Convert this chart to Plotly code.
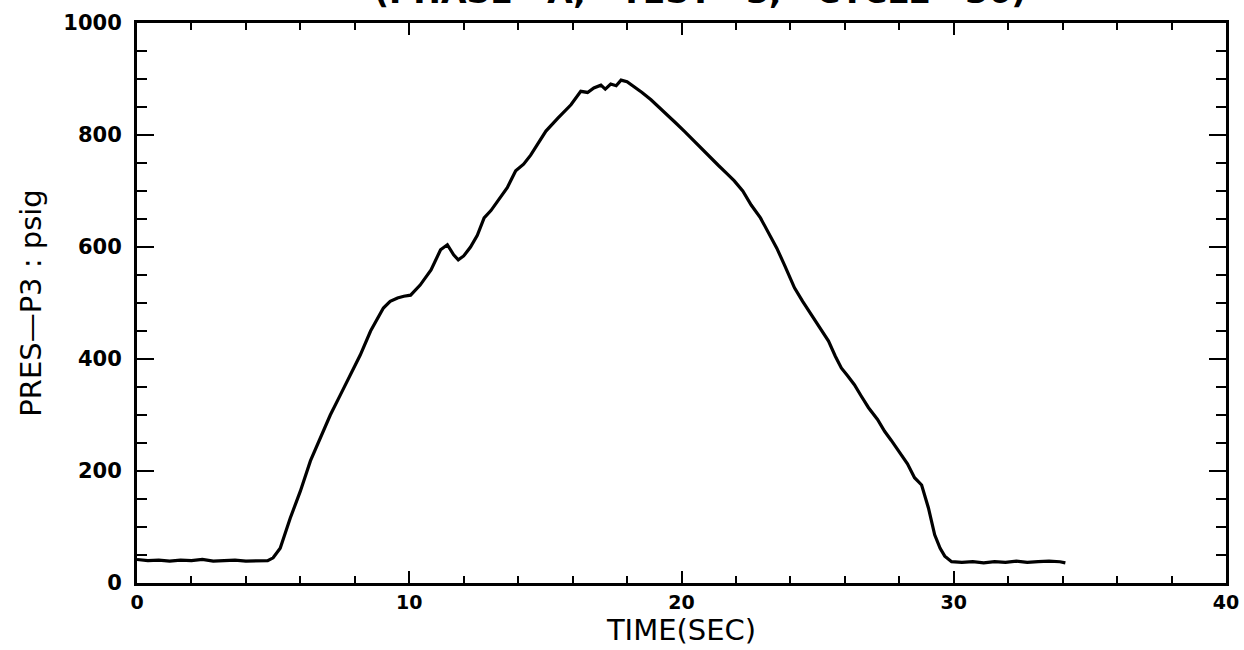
import plotly.graph_objects as go

# ---- data ----
time_sec = [0, 0.4, 0.8, 1.2, 1.6, 2.0, 2.4, 2.8, 3.2, 3.6, 4.0, 4.4, 4.8, 5.0,
            5.26, 5.63, 6.0, 6.37, 6.74, 7.1, 7.47, 7.84, 8.2, 8.58, 9.05, 9.3,
            9.57, 9.8, 10.05, 10.4, 10.8, 11.15, 11.4, 11.63, 11.8, 12.0, 12.25,
            12.5, 12.75, 13.0, 13.25, 13.6, 13.91, 14.2, 14.46, 14.75, 15.02,
            15.46, 15.94, 16.3, 16.55, 16.78, 17.04, 17.2, 17.4, 17.6, 17.78,
            18.0, 18.25, 18.55, 18.88, 19.2, 19.5, 19.8, 20.1, 20.4, 20.72,
            21.05, 21.35, 21.65, 21.94, 22.25, 22.56, 22.9, 23.18, 23.5, 23.78,
            24.15, 24.45, 24.77, 25.1, 25.4, 25.65, 25.87, 26.1, 26.35, 26.6,
            26.87, 27.2, 27.46, 27.7, 27.97, 28.3, 28.56, 28.82, 29.07, 29.3,
            29.5, 29.67, 29.92, 30.3, 30.7, 31.1, 31.5, 31.9, 32.3, 32.7, 33.1,
            33.5, 33.9, 34.1]
pres_psig = [42, 40, 41, 39, 41, 40, 42, 39, 40, 41, 39, 40, 40, 45,
             62, 116, 164, 218, 259, 300, 336, 371, 407, 450, 491, 503,
             509, 512, 514, 532, 559, 595, 604, 586, 577, 584, 600,
             621, 652, 665, 682, 706, 736, 748, 764, 787, 807,
             830, 854, 878, 876, 884, 889, 882, 891, 888, 898,
             895, 887, 876, 863, 849, 834, 821, 807, 792, 777,
             760, 746, 732, 718, 700, 675, 652, 628, 598, 568,
             527, 503, 479, 452, 432, 405, 384, 370, 354, 334,
             313, 292, 271, 255, 236, 213, 188, 175, 134, 86,
             62, 48, 38, 37, 38, 36, 38, 37, 39, 37, 38,
             39, 38, 36]

title_text = "(PHASE   A,   TEST   3,   CYCLE   36)"
x_title = "TIME(SEC)"
y_title = "PRES\u2014P3 : psig"

fig = go.Figure()
fig.add_trace(go.Scatter(x=time_sec, y=pres_psig, mode="lines",
                         line=dict(color="black", width=3.2), showlegend=False))

fam = "DejaVu Sans"
xtick_font = dict(family=fam, size=19, color="black", weight="bold")
ytick_font = dict(family=fam, size=21, color="black", weight="bold")
title_font = dict(family=fam, size=29, color="black")

fig.update_layout(
    width=1244, height=650,
    margin=dict(l=137, r=18, t=23, b=67),
    paper_bgcolor="white", plot_bgcolor="white",
    xaxis=dict(range=[0, 40], tickmode="linear", tick0=0, dtick=10,
               ticks="inside", ticklen=12, tickwidth=2, tickcolor="black",
               minor=dict(dtick=2, ticks="inside", ticklen=7, tickwidth=2,
                          tickcolor="black", showgrid=False),
               showline=True, linecolor="black", linewidth=3, mirror="ticks",
               showgrid=False, zeroline=False, tickfont=xtick_font,
               automargin=False,
               title=dict(text=x_title, font=title_font, standoff=0)),
    yaxis=dict(range=[0, 1000], tickmode="linear", tick0=0, dtick=200,
               ticks="inside", ticklen=17, tickwidth=2, tickcolor="black",
               minor=dict(dtick=50, ticks="inside", ticklen=10, tickwidth=2,
                          tickcolor="black", showgrid=False),
               showline=True, linecolor="black", linewidth=3, mirror="ticks",
               showgrid=False, zeroline=False, tickfont=ytick_font,
               ticklabelstandoff=8, automargin=False,
               title=dict(text=y_title, font=title_font, standoff=14)),
)

fig.add_annotation(text=title_text, xref="paper", yref="paper",
                   x=0.517, y=1.018, xanchor="center", yanchor="bottom",
                   showarrow=False,
                   font=dict(family=fam, size=33, color="black", weight="bold"))

fig.write_html("out.html", config={"displayModeBar": False},
               post_script="document.body.style.margin='0px';")
